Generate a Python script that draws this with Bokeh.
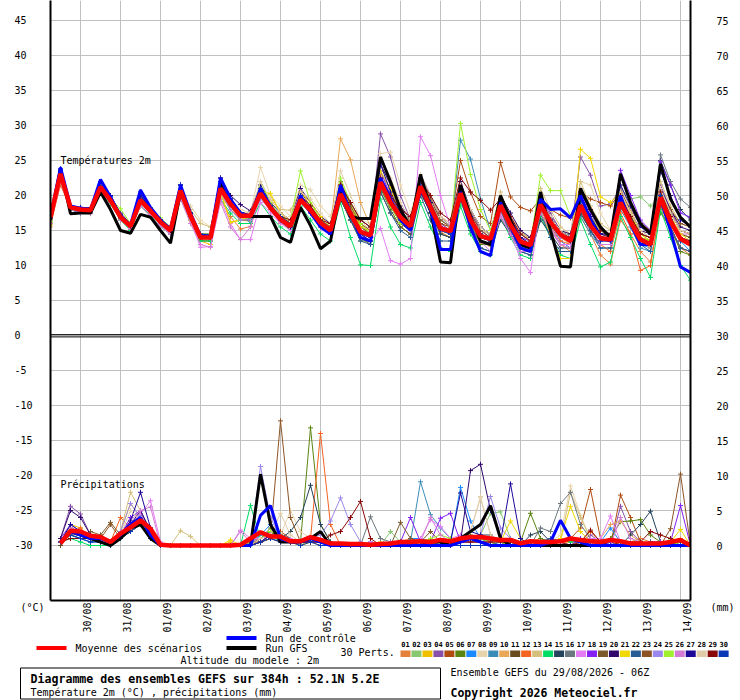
import math
from bokeh.plotting import figure
from bokeh.layouts import column
from bokeh.models import Range1d, LinearAxis, FixedTicker, Span
from bokeh.embed import file_html
from bokeh.resources import INLINE
from bokeh.core.properties import value

# ------------------------------------------------------------------ data
RUN_HOURS = 384
STEP_HOURS = 6
FIRST_MIDNIGHT_HOURS = 18
DATE_LABELS = ["30/08", "31/08", "01/09", "02/09", "03/09", "04/09", "05/09", "06/09",
               "07/09", "08/09", "09/09", "10/09", "11/09", "12/09", "13/09", "14/09"]
LEFT_TICKS = list(range(-30, 50, 5))
RIGHT_TICKS = list(range(0, 80, 5))
PRECIP_ZERO = -30          # where 0 mm sits on the shared vertical scale
PERT_LABELS = ["%02d" % i for i in range(1, 31)]
PERT_COLORS = ["#E4803A", "#88C870", "#F0C000", "#8850A8", "#B04C10", "#5A8410",
               "#1A88FF", "#E8D4AC", "#3C8CB8", "#E8A858", "#6A4C1C", "#F46420",
               "#D4C07C", "#00DC64", "#24445C", "#6C7880", "#E47CF4", "#8420F4",
               "#7C5A2C", "#30086C", "#F0D800", "#285C94", "#8C5424", "#9C88EC",
               "#A0F030", "#D47CD4", "#1C0898", "#E0CCA8", "#880808", "#0838B8"]

# 2 m temperature (deg C), every 6 h from 29/08 06Z
T01 = [16.0,22.0,18.2,17.6, 17.4,20.5,19.0,16.8, 15.4,18.8,17.5,16.0, 14.6,20.0,17.0,13.6, 13.5,19.5,17.0,15.2, 15.6,19.8,18.0,16.2, 15.0,19.0,17.5,15.5, 14.6,21.5,18.0,14.5, 13.5,22.5,19.5,16.0, 15.0,20.5,17.5,14.8, 14.0,19.5,15.5,13.2, 12.8,17.5,15.0,12.5, 12.0,17.5,15.5,13.0, 12.0,17.0,14.5,11.5, 10.2,16.5,14.5,12.0, 10.5,18.0,15.0,12.5, 11.5]
T02 = [16.8,22.5,18.0,17.8, 18.0,20.8,19.2,17.0, 15.8,19.0,17.6,16.0, 15.2,20.2,17.4,14.5, 14.3,20.5,18.5,17.0, 16.8,20.0,18.5,16.8, 15.5,19.5,18.0,16.0, 15.5,20.0,17.0,15.0, 14.5,21.0,18.5,16.5, 15.5,20.0,18.0,15.0, 14.5,19.0,16.0,14.0, 14.0,17.5,16.0,14.5, 14.0,19.0,16.5,14.5, 14.5,18.0,16.0,14.0, 14.5,21.0,19.5,19.8, 18.5,20.0,16.5,14.5, 14.0]
T03 = [15.8,22.3,18.5,18.0, 17.8,21.0,19.5,17.0, 15.5,19.5,18.0,16.3, 15.0,20.5,16.0,13.5, 13.0,20.5,16.2,16.5, 16.3,21.0,20.0,17.5, 16.0,20.0,18.5,16.5, 15.5,21.0,18.5,15.5, 14.8,23.0,21.0,17.5, 16.0,22.0,19.0,16.0, 15.0,21.0,17.5,15.0, 14.5,19.5,16.5,14.0, 13.5,19.0,17.0,15.0, 14.0,19.5,16.5,14.5, 14.0,20.0,17.0,14.5, 13.5,20.5,17.0,14.5, 14.0]
T04 = [16.5,23.0,18.5,18.2, 18.0,21.5,19.5,17.2, 15.8,19.5,18.0,16.5, 15.2,21.0,17.5,14.2, 14.2,21.5,19.0,17.5, 17.3,21.0,18.8,17.0, 16.0,20.0,18.5,16.5, 15.5,22.0,18.5,15.5, 15.0,28.8,25.5,20.0, 16.5,22.5,20.0,16.5, 15.5,21.5,18.0,15.0, 14.5,20.0,17.0,14.5, 13.5,20.0,17.5,15.0, 14.0,25.5,22.9,18.5, 18.8,21.0,17.5,14.5, 14.0,21.5,18.0,15.0, 14.5]
T05 = [16.5,22.8,18.2,18.0, 17.8,21.0,19.0,16.8, 15.5,19.0,17.5,16.0, 14.8,20.5,17.0,14.0, 14.0,21.0,19.0,17.0, 17.0,20.0,18.0,16.5, 15.5,19.5,18.0,16.0, 15.0,20.5,17.5,15.0, 14.5,22.0,19.0,17.0, 16.0,22.0,19.5,17.0, 16.0,25.0,20.5,17.0, 16.0,24.7,19.8,18.3, 17.8,19.5,18.0,17.2, 16.8,20.5,19.5,19.0, 18.5,20.5,18.0,16.0, 15.0,20.5,17.5,15.0, 14.5]
T06 = [16.8,23.5,18.0,17.8, 17.8,21.5,19.5,17.0, 15.5,19.5,17.8,16.0, 15.0,21.0,17.0,13.8, 13.8,21.5,19.0,17.0, 17.0,20.5,18.0,16.5, 15.5,19.0,17.5,15.5, 14.5,19.5,16.5,13.5, 13.5,21.0,18.0,15.5, 14.5,20.5,17.5,14.5, 14.0,21.0,16.0,13.0, 13.0,18.0,15.0,12.5, 12.5,18.0,15.5,14.5, 13.5,18.0,15.0,13.0, 13.0,18.5,16.5,15.5, 15.0,17.5,15.5,12.0, 11.5]
T07 = [16.8,23.8,18.5,18.2, 18.0,21.8,19.8,17.2, 15.8,20.3,18.0,16.3, 14.5,21.5,17.5,14.5, 14.3,22.0,19.5,17.5, 16.0,20.5,18.5,17.0, 16.0,20.0,18.0,16.5, 15.5,20.5,17.5,14.5, 14.0,22.5,19.5,17.5, 16.0,21.5,18.0,15.5, 15.0,20.5,16.5,14.5, 13.5,19.0,16.0,14.0, 13.5,18.5,16.0,13.5, 12.5,17.5,15.0,13.0, 13.0,19.5,16.5,13.0, 12.5,19.5,16.5,13.5, 12.0]
T08 = [16.5,22.5,18.5,18.2, 18.2,21.0,19.5,17.2, 15.8,19.5,18.0,16.5, 15.5,20.5,18.5,16.5, 15.5,20.5,19.0,18.0, 17.5,24.0,20.0,18.5, 17.0,21.5,20.8,18.5, 17.0,22.0,19.0,16.5, 16.0,26.0,26.2,21.5, 17.5,22.5,19.5,17.0, 16.0,21.0,17.5,15.0, 14.5,19.0,16.5,14.0, 13.5,19.5,17.0,15.0, 14.5,22.0,21.5,17.5, 15.0,20.5,17.5,15.0, 14.0,20.5,17.0,14.5, 14.0]
T09 = [16.5,22.5,18.0,17.5, 17.5,21.0,19.5,17.0, 15.5,19.5,17.5,16.0, 15.0,20.5,17.0,14.0, 14.0,21.0,18.5,17.0, 16.5,20.0,18.0,16.5, 15.5,19.5,18.0,16.0, 15.0,20.0,17.0,14.5, 14.0,22.5,19.5,17.0, 15.5,21.0,18.0,15.0, 15.0,27.9,25.2,19.5, 15.0,20.0,16.0,13.0, 12.5,18.0,15.5,13.0, 13.0,17.0,14.5,12.5, 12.5,18.0,15.5,12.5, 12.0,18.5,15.5,12.5, 12.0]
T10 = [15.5,22.0,18.5,17.8, 17.8,20.5,19.0,17.0, 15.5,19.0,17.5,16.0, 14.8,20.0,17.0,14.0, 14.0,20.0,18.0,16.8, 16.5,20.0,18.0,16.5, 15.5,19.5,18.0,16.0, 15.5,28.1,25.1,19.0, 15.5,22.5,19.5,17.5, 16.0,21.5,18.5,16.0, 15.5,20.5,17.0,15.0, 14.0,19.5,17.0,15.0, 13.5,19.5,16.5,14.0, 13.0,18.5,16.0,14.0, 13.5,19.5,16.5,13.5, 12.5,19.5,16.5,13.5, 13.0]
T11 = [16.8,22.8,18.0,17.6, 17.5,20.8,19.0,16.5, 15.2,19.0,17.5,15.8, 14.5,20.0,16.5,13.5, 13.5,20.5,18.0,16.5, 16.5,20.0,18.0,16.5, 15.0,19.0,17.5,15.5, 14.5,19.5,16.5,14.0, 13.0,20.5,17.5,15.5, 14.5,20.5,18.0,15.0, 14.5,19.5,16.5,14.5, 13.5,19.0,16.5,14.5, 13.5,19.5,17.0,15.0, 14.0,19.5,16.5,14.5, 14.5,19.5,17.0,15.5, 15.0,18.5,16.5,14.5, 14.0]
T12 = [16.0,21.5,18.2,17.8, 17.6,20.5,19.0,16.8, 15.4,19.0,17.6,16.0, 15.0,20.2,17.0,14.0, 14.0,20.5,18.5,17.0, 17.0,20.5,18.5,17.0, 16.0,19.5,18.0,16.0, 15.0,20.5,17.0,14.5, 14.5,21.5,19.0,17.0, 16.0,21.0,18.0,15.5, 15.0,20.0,16.5,14.5, 14.0,18.0,15.0,13.0, 12.5,18.0,15.5,13.5, 13.0,17.5,15.0,13.0, 12.0,17.5,14.5,9.3, 10.0,18.5,15.5,12.5, 12.0]
T13 = [16.5,22.5,18.5,18.0, 18.0,21.0,19.5,17.2, 15.8,19.5,18.0,16.3, 15.5,20.5,18.0,16.0, 15.5,20.0,18.5,17.5, 17.5,21.0,19.3,18.0, 17.9,20.5,19.0,17.0, 15.5,21.5,18.5,16.0, 15.0,24.5,21.5,18.5, 16.5,22.5,19.0,16.5, 15.5,22.0,17.5,15.0, 14.5,20.5,17.0,14.5, 14.0,21.0,18.0,15.5, 14.5,22.0,18.5,16.0, 15.0,21.5,18.0,15.0, 14.5,22.0,18.5,16.0, 15.5]
T14 = [16.2,22.0,18.0,17.5, 17.5,20.5,18.8,16.5, 15.0,18.5,17.2,15.5, 14.5,19.5,16.5,13.5, 13.5,19.5,17.5,16.0, 16.0,19.0,17.0,15.5, 14.5,18.5,16.5,14.5, 13.5,19.0,14.0,10.1, 10.0,19.5,15.5,13.0, 12.5,19.0,15.5,12.5, 12.0,18.5,14.5,12.0, 11.5,17.0,14.0,11.5, 11.0,17.0,14.0,11.5, 11.0,16.5,13.0,9.8, 10.5,17.0,14.0,11.0, 8.3,18.0,14.0,10.0, 7.9]
T15 = [16.5,22.5,18.0,17.5, 17.5,20.5,19.0,16.8, 15.5,19.0,17.5,16.0, 14.8,20.5,17.0,14.0, 14.0,21.0,18.5,17.0, 16.8,20.0,18.0,16.5, 15.5,19.5,17.5,15.5, 14.5,20.0,17.0,14.0, 13.5,21.5,18.5,16.0, 15.0,20.5,17.5,14.5, 14.0,19.5,15.5,12.5, 12.0,16.5,14.5,12.0, 11.5,16.5,14.5,12.5, 12.5,17.5,15.0,13.0, 13.0,19.0,16.5,14.0, 13.5,25.0,21.5,18.0, 16.5]
T16 = [16.8,23.0,18.5,18.0, 18.0,21.5,19.5,17.0, 15.8,19.5,18.0,16.5, 15.2,21.0,17.5,14.5, 14.5,21.5,19.0,17.5, 17.0,20.5,18.5,17.0, 16.0,20.0,18.0,16.0, 15.0,20.5,18.0,15.5, 14.5,22.5,19.5,17.5, 16.0,21.0,18.5,15.5, 15.0,20.0,16.5,14.5, 14.0,17.0,14.5,12.5, 12.5,17.5,15.0,13.0, 13.0,18.5,16.0,14.5, 14.5,19.5,17.0,14.5, 14.0,25.8,22.0,19.5, 18.3]
T17 = [16.0,22.0,18.2,17.8, 17.5,20.5,19.0,16.8, 15.3,18.8,17.3,15.8, 14.5,19.5,16.5,12.6, 12.7,19.5,16.0,13.7, 13.7,19.0,17.5,16.0, 15.0,19.0,17.5,15.5, 14.5,20.0,17.0,14.5, 13.5,15.3,10.7,10.2, 11.0,28.4,25.7,20.0, 15.5,21.0,16.5,14.0, 13.5,17.5,14.5,11.0, 9.0,18.5,15.5,13.0, 13.0,19.0,16.0,13.5, 13.5,19.5,16.5,13.5, 13.0,20.0,17.0,14.5, 14.5]
T18 = [16.8,23.5,18.5,18.2, 18.0,21.5,19.5,17.0, 15.5,19.5,18.0,16.3, 15.0,21.0,17.0,14.0, 14.0,21.5,19.0,17.5, 17.0,20.5,18.5,16.5, 15.5,19.5,18.0,16.0, 15.0,21.0,17.5,15.0, 14.5,23.5,20.0,17.5, 16.0,22.0,19.0,16.0, 15.0,21.5,17.5,15.0, 14.0,20.0,17.0,14.0, 13.5,20.0,17.0,15.0, 14.0,20.5,17.5,15.0, 14.5,23.6,20.0,16.5, 15.0,24.8,21.5,17.5, 16.9]
T19 = [16.5,22.5,18.3,17.8, 17.8,21.0,19.2,16.8, 15.5,19.2,17.5,16.0, 15.0,20.5,17.0,14.0, 14.0,21.0,18.5,17.0, 17.0,20.0,18.0,16.5, 15.5,19.5,18.0,16.0, 15.5,22.0,18.5,15.5, 14.5,21.5,18.5,16.0, 15.0,22.5,19.5,16.5, 15.5,21.0,18.0,15.5, 14.5,18.5,16.0,13.5, 13.0,18.0,16.0,14.0, 13.5,18.5,16.0,14.0, 14.0,19.0,16.5,14.0, 13.5,20.0,17.5,15.0, 14.5]
T20 = [17.0,23.5,18.5,18.3, 18.2,22.0,20.0,17.5, 16.0,20.0,18.2,16.5, 15.5,21.5,17.5,14.5, 14.5,22.5,20.0,18.7, 17.8,21.5,19.0,17.5, 16.5,21.0,19.0,17.0, 16.0,21.5,19.0,16.5, 15.5,24.5,21.5,18.5, 16.5,23.0,20.0,17.0, 15.5,22.0,18.0,15.5, 14.5,20.0,17.5,15.0, 14.0,19.5,17.0,15.0, 14.5,20.0,17.0,14.5, 14.0,20.5,17.5,15.0, 14.5,21.0,18.0,15.5, 15.0]
T21 = [16.2,22.0,18.5,18.0, 17.8,21.0,19.0,17.0, 15.5,19.0,17.5,16.0, 15.0,20.0,16.5,14.0, 14.0,20.5,16.1,16.5, 17.0,20.5,20.3,17.5, 16.5,20.5,19.0,17.0, 15.5,21.5,18.5,15.5, 15.0,23.5,21.0,18.0, 16.0,21.5,18.5,15.5, 14.5,20.0,16.0,14.0, 13.5,18.0,15.5,13.0, 12.5,17.5,14.5,11.0, 11.0,26.6,25.3,19.8, 19.0,20.5,17.5,14.5, 13.5,20.0,17.0,14.5, 13.5]
T22 = [16.8,23.2,18.3,18.0, 17.8,21.5,19.5,17.0, 15.6,19.8,18.0,16.3, 15.2,21.0,17.2,14.3, 14.2,21.5,19.0,17.2, 17.0,20.0,18.0,16.5, 15.5,19.0,17.5,15.5, 14.5,19.5,16.5,13.5, 13.0,20.5,17.5,15.0, 14.0,20.0,16.5,13.5, 13.5,19.5,15.0,12.5, 12.0,18.0,14.5,12.0, 11.5,17.5,14.0,12.0, 12.0,18.0,15.0,12.5, 12.5,19.0,16.0,13.0, 12.0,19.5,15.5,12.5, 12.0]
T23 = [16.5,22.8,18.2,18.0, 17.8,21.0,19.2,16.8, 15.5,19.2,17.8,16.2, 15.0,20.5,17.0,14.0, 14.0,20.5,18.5,17.0, 17.0,20.0,18.0,16.8, 16.0,20.5,18.5,16.5, 15.5,21.0,18.5,16.0, 15.0,22.5,20.0,17.5, 16.5,22.0,19.0,16.0, 15.5,21.0,17.5,15.0, 14.0,19.5,16.5,14.0, 13.0,19.0,17.0,15.0, 14.0,19.5,17.0,15.0, 14.0,19.5,17.0,14.5, 14.0,20.0,18.0,16.0, 15.5]
T24 = [16.5,22.5,18.2,17.8, 17.6,21.0,19.0,16.8, 15.5,19.0,17.5,16.0, 14.8,20.0,17.0,14.0, 14.0,20.5,18.0,16.5, 16.5,19.5,18.0,16.5, 15.5,19.0,17.5,15.5, 15.0,20.0,17.0,14.5, 14.0,22.0,19.0,16.5, 15.0,21.0,18.0,15.0, 14.5,20.0,16.5,14.0, 13.5,18.5,16.0,13.5, 13.0,18.5,16.0,14.0, 13.5,18.5,15.5,13.5, 13.5,18.5,16.0,13.5, 13.0,19.5,16.5,14.0, 13.5]
T25 = [16.5,22.5,18.5,18.0, 18.0,21.0,19.5,18.1, 16.0,20.5,18.3,16.8, 15.5,21.0,17.5,14.5, 14.5,22.0,19.5,17.5, 17.0,22.0,19.0,17.0, 16.5,23.5,19.0,16.5, 15.0,22.5,19.0,16.0, 14.5,21.5,18.5,16.0, 15.5,21.0,18.0,15.0, 15.0,30.3,23.0,18.0, 15.0,20.0,16.0,13.5, 13.0,22.9,20.7,20.7, 17.0,19.5,17.0,15.0, 14.5,19.5,16.5,14.0, 13.5,19.0,16.0,13.5, 13.0]
T26 = [16.0,22.0,18.0,17.5, 17.5,20.5,19.0,16.5, 15.2,18.5,17.0,15.5, 14.5,19.5,16.0,13.0, 12.6,19.0,15.5,13.7, 15.5,20.0,18.0,16.0, 15.5,19.5,17.5,15.5, 14.5,20.0,17.5,15.0, 14.0,22.5,19.5,17.0, 15.5,21.5,18.5,15.5, 14.5,20.5,16.5,13.5, 12.0,17.0,14.5,12.0, 12.0,17.5,15.0,13.0, 12.5,18.0,15.5,13.0, 13.0,18.5,16.0,13.5, 13.0,19.0,16.0,13.5, 13.5]
T27 = [17.0,23.8,18.5,18.2, 18.2,22.0,20.0,17.3, 15.8,20.0,18.0,16.5, 15.0,21.5,17.5,14.0, 14.0,22.5,19.5,17.5, 17.3,21.0,18.5,16.5, 15.5,20.0,18.0,16.0, 14.5,21.0,17.5,14.5, 13.5,24.5,20.5,17.5, 15.5,22.5,19.0,15.5, 14.5,21.0,17.0,14.5, 13.5,20.0,17.0,14.0, 13.0,19.5,17.0,15.0, 14.0,20.0,17.0,14.5, 14.5,21.5,18.5,15.5, 14.5,23.5,20.0,16.5, 15.5]
T28 = [16.5,22.5,18.3,18.0, 18.0,21.2,19.3,17.0, 15.6,19.3,17.8,16.2, 15.0,20.5,17.2,14.2, 14.3,21.0,19.0,17.5, 17.5,22.0,19.5,17.5, 16.5,20.5,19.5,17.5, 16.0,23.5,20.0,16.5, 15.0,25.5,22.5,19.0, 16.5,23.0,20.0,17.0, 15.5,21.5,18.0,15.5, 14.5,20.0,17.0,14.5, 13.5,19.5,17.0,15.0, 14.0,21.0,18.0,15.5, 14.5,20.5,17.5,15.0, 14.0,21.0,17.5,15.0, 14.5]
T29 = [16.8,23.0,18.3,18.0, 17.9,21.2,19.3,16.9, 15.6,19.3,17.8,16.2, 15.0,20.7,17.1,14.0, 14.0,21.0,18.8,17.1, 17.1,20.5,18.5,17.0, 16.5,20.0,18.5,16.5, 16.0,21.5,19.0,16.5, 15.5,22.5,20.0,18.0, 17.0,22.0,20.0,17.5, 16.5,22.5,20.5,19.3, 17.9,19.5,17.0,14.5, 13.5,19.0,16.5,14.5, 14.0,20.5,18.0,15.0, 14.5,20.0,17.0,14.5, 14.0,20.5,17.0,14.0, 13.5]
T30 = [17.0,23.5,18.5,18.2, 18.0,22.0,19.8,17.2, 15.8,20.5,18.2,16.5, 15.3,21.5,17.5,14.5, 14.3,22.0,19.5,17.5, 17.2,21.0,18.5,17.0, 16.0,20.0,18.0,16.0, 15.0,20.5,17.0,14.5, 14.0,22.0,19.0,16.5, 15.5,21.5,18.0,15.0, 14.5,20.5,16.5,14.0, 13.5,19.0,16.0,13.5, 13.0,19.0,16.5,14.5, 13.5,19.0,16.0,13.5, 13.5,19.5,16.5,13.5, 13.0,20.0,16.5,13.5, 13.0]
T_CTRL = [17.0,24.0,18.5,18.2, 18.0,22.3,19.8,17.0, 15.8,20.8,18.3,16.5, 15.2,21.5,17.5,14.2, 14.2,22.5,19.5,17.5, 17.0,21.0,18.5,16.5, 15.5,20.0,17.5,15.5, 14.5,21.5,17.5,14.0, 13.5,22.5,19.5,16.5, 15.0,21.0,18.0,12.3, 12.3,20.5,15.5,12.0, 11.4,19.0,15.5,12.5, 12.0,19.5,18.0,18.1, 16.8,20.0,16.5,14.0, 13.5,20.0,16.0,13.0, 13.0,19.5,15.0,9.8, 9.0]
T_GFS = [16.5,23.8,17.4,17.5, 17.5,20.5,18.0,15.0, 14.6,17.3,16.9,15.0, 13.2,20.5,17.0,14.0, 14.0,22.0,19.0,17.5, 17.0,17.0,17.0,14.0, 13.3,18.3,15.7,12.4, 13.5,20.5,17.0,16.7, 16.7,25.5,22.0,18.0, 15.5,23.0,18.0,10.5, 10.4,21.5,17.0,13.5, 13.0,20.0,16.5,13.0, 12.5,20.5,15.0,9.9, 9.8,21.0,18.0,15.5, 14.0,23.1,19.0,16.0, 14.5,24.5,19.5,16.9, 15.5]
T_MEAN = [16.9,23.1,18.3,18.0, 17.9,21.2,19.3,16.9, 15.6,19.3,17.8,16.2, 15.0,20.7,17.1,14.0, 14.0,21.0,18.8,17.1, 17.1,20.3,18.2,16.6, 15.6,19.4,17.9,16.1, 15.0,20.2,17.4,14.8, 14.3,21.9,19.0,16.9, 15.6,21.3,18.3,15.3, 14.9,20.3,16.5,14.2, 13.8,18.6,15.8,13.4, 12.9,18.7,16.2,14.4, 13.5,18.6,15.7,13.9, 13.7,19.0,16.2,13.7, 13.0,19.7,16.3,13.8, 13.0]

# 6-hourly precipitation (mm), first value ends 29/08 12Z
R01 = [0.5,2.5,2,1, 1.5,0.5,2,3, 4,2,0,0, 0,0,0,0, 0,0,0,0.5, 1,2,1,0.5, 0.5,1,0.5,0, 0,0,0,0.5, 0,0,0.5,1, 0.5,0.5,1,0, 0.5,1,0.5,1, 0.5,0,0,0.5, 1,0.5,0,0, 0.5,1,0.5,0, 0,0.5,1,0.5, 0,0.5,1,0]
R02 = [0,1.5,1,0.5, 1,0,1,2, 3,1.5,0,0, 0,0,0,0, 0,0,0,0, 0.5,1,1.5,0.5, 0,1,0.5,0, 0,0,0,0, 0,2,0.5,0.5, 0,1,0.5,0.5, 1,0.5,1.5,4.6, 4.8,1,0.5,0, 0.5,1,0.5,1, 0,0.5,0,0.5, 0,0.5,0,0, 0,1,0.5,0]
R03 = [0.5,3,2.5,1, 0.5,0,2,6, 4,2,0,0, 0,0,0,0, 0,0.5,0,0, 0.5,1.5,1,0.5, 0,0.5,0,0, 0,0,0,0, 0.5,0,0,1, 0,0.5,0,0.5, 0.5,0.5,1,0.5, 0,0.5,0,0, 0.5,0,0.5,0.5, 1,0,0.5,0, 0.5,0,0,0, 0,0.5,0.5,0]
R04 = [1,5.6,4.5,1.5, 1,0.5,1.5,3, 4.5,2.5,0,0, 0,0,0,0, 0,0,0,0, 1,1.5,1,0.5, 0.5,1,1,0, 0,0,0,0, 0,0,0,0.5, 0,0,0.5,0.5, 1,0.5,0.5,0, 0,0,0.5,0, 0.5,0.5,1,0.5, 0.5,1.5,0.5,0, 5.6,2,0.5,0, 0,0,0.5,0]
R05 = [0,2,1.5,1, 1,0.5,1.5,2.5, 3.5,2,0,0, 0,0,0,0, 0,0,0,0, 0.5,1.5,2,1, 0.5,1,0.5,0, 0,0,0,0, 0,0,0,0.5, 0.5,1,0.5,0.5, 1,0.5,0.5,0.5, 0,0,0.5,0, 0,0.5,0.5,1, 2.5,8,1,0, 7.2,4,0.5,0, 0,0.5,0.5,0]
R06 = [0.5,2,2,1, 0.5,0,1,2.5, 3,1.5,0,0, 0,0,0,0, 0,0,0,0.5, 1,2.5,1,1, 0.5,16.8,3,0.5, 0,0,0,0, 0,0,0.5,0.5, 1,0.5,0.5,0.5, 1,1.5,1,0.5, 0,1,0.5,4.6, 1,0.5,0,0, 0,0.5,0.5,1, 3.4,3.5,3.7,1.5, 0.5,0.5,0,0]
R07 = [0.5,1.5,1,0.5, 0.5,0,1,3, 3,1,0,0, 0,0,0,0, 0,0,0,0, 1.5,3,1.5,1, 0.5,1,0.5,0, 0,0,0,0.5, 0,0.5,0,1, 1,0.5,0.5,0.5, 8.3,3.5,1,0.5, 0.5,0.5,0,0, 0.5,1,0.5,0, 0,0.5,0.5,2.5, 0.5,0.5,0,0, 0,0.5,0,0]
R08 = [0.5,2,1.5,1, 1,0.5,1,4, 5,1.5,0,0, 0,0,0,0, 0,0,0,0, 1,2,1.5,5, 2,1,0.5,0, 0,0,0,0, 0,0,0.5,0.5, 0.5,0.5,0.5,1, 1,2,6.8,1.5, 0.5,0.5,0,0, 0.5,0.5,1.5,8.5, 4.3,1,0,0, 0.5,0,0.5,0, 0,0.5,0.5,0]
R09 = [0.5,2.5,2,1, 1,0.5,1.5,3, 3.5,2,0,0, 0,0,0,0, 0,0,0,0.5, 1.5,2,1.5,1, 0.5,1,0.5,0, 0,0,0,0, 0,0,0.5,0.5, 9.1,4.4,2.5,1, 1,0.5,0.5,0, 0.5,0,0,0.5, 0.5,1,0.5,0, 0,0.5,0,0.5, 0,0.5,0,0, 0,0,0.5,0]
R10 = [0.5,1.5,1.5,1, 1,0.5,2,3, 4,1.5,0,0, 0,0,0,0, 0,0,0,0.5, 0.5,1.5,1,0.5, 0.5,1,0.5,0, 0,0,0,0, 0,0,0,0.5, 0.5,0.5,1,0.5, 0.5,1,1,0.5, 0.5,0.5,0,0, 0,0.5,0.5,0.5, 0.5,0.5,1,3, 3.5,1.5,0.5,0, 0,0.5,1,0]
R11 = [0,2,1.5,1.5, 1,0.5,1,2, 3,1.5,0,0, 0,0,0,0, 0,0,0,0, 1,1.5,1,0.5, 0.5,1,0.5,0, 0,0,0,0, 0,0,0,0, 0.5,0.5,0.5,0, 1,0.5,0.5,0.5, 0.5,0.5,0,0, 0,0.5,0.5,0, 1,0.5,0,0, 0.5,0,0,0.5, 0.5,0,0.5,0]
R12 = [0.5,2,2.5,1, 1,0.5,4,2.5, 3,2,0,0, 0,0,0,0, 0,0,0,0, 0.5,1.5,1,0.5, 0.5,1,16,3, 0,0,0,0, 0,0,0.5,0.5, 0.5,1,0.5,0.5, 0.5,0.5,1,0.5, 0.5,0,0,0, 0.5,0.5,0.5,0, 0.5,2,0.5,0, 0,0.5,0,0, 0,0.5,0.5,0]
R13 = [0.5,2.5,2,1, 1,0,2,7.6, 5,2,0,0, 2.1,1.3,0,0, 0,0,0,0, 0.5,1.5,1,0.5, 0.5,1,0.5,0, 0,0,0,0, 0,0,0.5,0.5, 0.5,0.5,0.5,1, 0.5,1,1.5,1, 0.5,0.5,0,0, 0.5,0.5,0.5,7.6, 4,1,0,0, 0,0.5,0.5,0, 0,0.5,0.5,0]
R14 = [0.5,1,0.5,0, 0,0,1,2, 3,1,0,0, 0,0,0,0, 0,0,0,5.7, 1,1.5,0.5,0.5, 0.5,1,0.5,0, 0,0,0,0, 0,0.5,0,0, 0,0.5,0.5,0, 0.5,0.5,0.5,1, 0.5,0,0,0, 0,0.5,1,0.5, 0.5,0.5,0,0, 0.5,0,0,0, 0,0.5,0.5,0]
R15 = [0.5,2,1.5,1, 1,0.5,1.5,2.5, 4,2,0,0, 0,0,0,0, 0,0,0,0.5, 1,2,1,2, 4,8.6,3,0.5, 0,0,0,0, 0,0,0.5,0.5, 0.5,0.5,0.5,0, 0.5,1,1.5,1.5, 0.5,0.5,0,1.5, 2,0.5,0,0, 0.5,1,0.5,0, 0,1.5,3,4.9, 0.5,0.5,0,0]
R16 = [0.5,2,2,1, 1,0.5,1.5,3, 4,1.5,0,0, 0,0,0,0, 0,0,0,0, 0.5,1.5,1,0.5, 0.5,0.5,0.5,0, 0,0,0,4.1, 1,0.5,0.5,0.5, 0.5,0.5,0.5,0, 0.5,0.5,0.5,0.5, 0.5,0.5,0.5,0, 2.5,2,6,7.6, 3,1,0,0, 0.5,0,0.5,0, 0,0.5,0.5,0]
R17 = [0.5,2,2,1, 1,0.5,2,3, 4.5,6.4,0.5,0, 0,0,0,0, 0,0,2.2,1, 1,1.5,1,1, 0.5,0.5,0.5,0, 0,0,0,0.5, 0,0,0.5,0.5, 1,3.7,2.7,1, 1.5,1,0.5,0.5, 0.5,0.5,0,0, 0.5,0.5,0.5,0, 0.5,1,1,4.2, 0.5,0,0.5,0, 0,0.5,0.5,0]
R18 = [1,3,2,1, 1,0.5,1.5,4, 5,2,0,0, 0,0,0,0, 0,0,0,0, 0.5,1.5,1,0.5, 0.5,1,0.5,0, 0,0,0,0, 0,0,0.5,4, 0.5,0.5,3.9,4.6, 0.5,1,0.5,0.5, 0.5,0.5,0,0, 0,0.5,0.5,0, 1,0.5,0,0.5, 0,0.5,0,0.5, 0.5,0.5,5.7,0]
R19 = [0.5,2,1.5,2, 1.5,3.3,1.5,2.5, 3.5,2,0,0, 0,0,0,0, 0,0,0,0, 1,2,1,0.5, 0.5,1,0.5,0, 0,0,0,0, 0,0,3.3,1, 0.5,2,0.5,0.5, 0.5,0.5,0.5,0.5, 0.5,0,0,0, 0.5,0.5,0.5,0, 0.5,0.5,0,0, 0.5,0.5,0.5,0, 0,0.5,0.5,0]
R20 = [1,5,4,1.5, 1,0.5,1.5,3, 5,2,0,0, 0,0,0,0, 0,0,0,0, 0.5,1,1,0.5, 0.5,0.5,0.5,0, 0,0,0,0, 0,0,0,0.5, 0.5,0.5,0.5,0.5, 0.5,10.7,11.6,5, 1,0.5,0,0, 0.5,0.5,0.5,0, 0.5,0.5,0,0, 0.5,0,0,0, 0,0.5,0.5,0]
R21 = [0.5,2,1.5,1, 0.5,0,1.5,3, 3.5,1.5,0,0, 0,0,0,0, 0,0.8,0,0, 0.5,1,1,0.5, 0,0.5,0.5,0, 0,0,0,0, 0,0,0.5,0.5, 0.5,1,0.5,0.5, 0.5,1,1,0.5, 0.5,3.5,1,0, 0.5,0.5,1,5.6, 2,0.5,0,0, 0.5,0,0.5,0, 0,0.5,2.3,0]
R22 = [0.5,1.5,1,1, 0.5,0,1,2.5, 3,1.5,0,0, 0,0,0,0, 0,0,0,0.5, 1,2,1.5,0.5, 0.5,0.5,0.5,0, 0,0,0,0, 0,0.5,0.5,0, 0.5,0.5,1,0.5, 0.5,0.5,1,0.5, 0.5,0,0,0, 0.5,1,0.5,0, 0.5,0.5,0,0, 0.5,0.5,0,0.5, 0,0.5,0.5,0]
R23 = [0.5,2,2,1, 1,3,1,2.5, 4,2,0,0, 0,0,0,0, 0,0,0,0, 1,1.5,17.8,4, 0.5,1,0.5,0, 0,0,0,0, 0,0,0,0.5, 0.5,0.5,0.5,0, 0.5,0.5,0.5,0.5, 0.5,0.5,0,0, 0.5,0.5,0.5,0, 0.5,0,0,0, 0.5,0.5,0.5,0, 0,2.4,10.2,0]
R24 = [0.5,3,2,1, 1,0.5,2,6, 4,2,0,0, 0,0,0,0, 0,0,0,0.5, 11.3,4,1,0.5, 0.5,1,1.5,3.5, 6.8,3,0.5,0, 0,0.5,0,0.5, 0.5,0.5,0.5,0, 0.5,1,1.5,7, 2.5,1,0,0, 0.5,0.5,0.5,0, 0.5,0.5,0,0, 0.5,0,0,0, 0,0.5,0.5,0]
R25 = [0.5,2,1.5,1, 1,0.5,1.5,2.5, 3.5,1.5,0,0, 0,0,0,0, 0,0,0,0.5, 1,2,1.5,0.5, 0.5,0.5,0.5,0, 0,0,0,0, 0,0,0.5,0.5, 0.5,1,1.5,1, 1,1,1,0.5, 0.5,0,0,0, 0,0.5,0.5,0, 0.5,0.5,0,0, 0.5,0,0.5,0, 0,0,0.5,0]
R26 = [0.5,2.5,2,1, 1,0,1.5,3.5, 5,5.5,0,0, 0,0,0,0, 0,0,2,0.5, 1,1.5,1,0.5, 0.5,0.5,0.5,0, 0,0,0,0, 0,0,0.5,0.5, 0.5,4,1.5,0.5, 0.5,0.5,0.5,0.5, 0.5,0.5,0,0, 0.5,0.5,0.5,0, 0.5,0.5,0,0, 4,1,0.5,0, 0,0.5,0.5,0]
R27 = [0.5,3,2,1, 1,0.5,1.5,3.5, 7.6,2.5,0,0, 0,0,0,0, 0,0,0,0, 0.5,1.5,1,0.5, 0.5,0.5,0.5,0, 0,0,0,0, 0,0,0.5,0.5, 0.5,0.5,0.5,0.5, 7.5,2,1.5,1, 0.5,8.8,1,0, 0.5,0.5,0.5,0, 0.5,0.5,0,0, 0.5,0,0,0, 0,0.5,0.5,0]
R28 = [0.5,2,2,1, 1,0.5,1.5,5, 3.5,1.5,0,0, 0,0,0,0, 0,0,0,0, 1,1.5,4.6,1.5, 0.5,1,0.5,0, 0,0,0,0, 0,0,0.5,0.5, 0.5,0.5,1,0.5, 1,2,7,1.5, 0.5,0.5,0,0, 0.5,0.5,0.5,0, 0.5,0.5,0,0, 0.5,0,0,0, 0,0.5,0.5,0]
R29 = [0.5,1,1,1, 0.5,0,1,2, 3,1,0,0, 0,0,0,0, 0,0,0,0, 0.5,1,0.5,0.5, 0.5,0.5,0.5,1.5, 2,4,6.3,1, 0,0,0.5,0.5, 0.5,0.5,0.5,0, 0.5,0.5,0.5,0.5, 0.5,0.5,0,0, 0.5,0.5,0.5,0, 0.5,2.2,0.5,0, 0.5,0,0.5,2, 1.5,1,0.5,0]
R30 = [0.5,1.5,1,0.5, 0.5,0,1,2, 3,1,0,0, 0,0,0,0, 0,0,0,0, 0.5,1,0.5,0.5, 0,0.5,0,0, 0,0,0,0, 0,0,0,0, 0,0,0,0, 0,0,0,0, 0,0,0,0, 0,0,0,0, 0,0,0,0, 0,0,0,0, 0,0,0,0]
R_CTRL = [0.5,2,1.5,1, 1,0.5,1.5,3, 4,1.5,0,0, 0,0,0,0, 0,0,0,0, 4.3,5.7,1,0.5, 0.5,1,0.5,0, 0,0,0,0, 0,0,0,0, 0,0,0,0, 0.5,1,0.5,0, 0,0,0,0, 0,0.5,3.6,1, 0.5,0,0,0, 0,0,0,0, 0,0,0,0]
R_GFS = [0.5,2,1.5,1, 0.5,0,1,2.5, 3,1,0,0, 0,0,0,0, 0,0,0,0, 10.2,3,0.5,0.5, 0.5,1,2,0, 0,0,0,0, 0,0,0,0, 0,0.5,0.5,0, 1,2,3,5.7, 1,0,0,0, 0,0,0,0, 0,0,0,0, 0,0,0,0, 0,0,0,0]
R_MEAN = [0.3,2.1,2.0,1.4, 1.2,0.5,1.7,2.6, 3.6,2.4,0.1,0, 0,0,0,0, 0,0,0.1,1.0, 1.9,1.3,1.3,0.6, 0.6,1.2,0.8,0.3, 0.3,0.2,0.2,0.1, 0.2,0.3,0.5,0.5, 0.6,0.5,0.8,0.6, 1.0,1.2,1.2,1.0, 0.8,0.8,0.3,0.6, 0.5,0.5,0.6,1.0, 0.8,0.6,0.5,0.8, 0.6,0.3,0.3,0.3, 0.3,0.5,0.8,0]

TEMP_PERTS = [T01, T02, T03, T04, T05, T06, T07, T08, T09, T10, T11, T12, T13, T14, T15,
              T16, T17, T18, T19, T20, T21, T22, T23, T24, T25, T26, T27, T28, T29, T30]
RAIN_PERTS = [R01, R02, R03, R04, R05, R06, R07, R08, R09, R10, R11, R12, R13, R14, R15,
              R16, R17, R18, R19, R20, R21, R22, R23, R24, R25, R26, R27, R28, R29, R30]

# ------------------------------------------------------------------ helpers
MONO = "DejaVu Sans Mono"
PAGE_W = 740
FRAME_L, FRAME_R = 50, 690        # plot frame, in page pixels
FRAME_H = 600
PX_PER_UNIT = 7.0
ZERO_PX = 335                     # page row of the 0 line
HOURS_PER_PX = RUN_HOURS / (FRAME_R - FRAME_L)


def temp_x(vals):
    return [STEP_HOURS * i for i in range(len(vals))]


def rain_x(vals):
    return [STEP_HOURS * (i + 1) for i in range(len(vals))]


def rain_y(vals):
    return [PRECIP_ZERO + v for v in vals]


# ------------------------------------------------------------------ main plot
Y_TOP = ZERO_PX / PX_PER_UNIT
Y_BOTTOM = (ZERO_PX - FRAME_H) / PX_PER_UNIT
p = figure(width=PAGE_W, height=FRAME_H + 2, output_backend="svg", toolbar_location=None,
           x_range=Range1d(0, RUN_HOURS), y_range=Range1d(Y_BOTTOM, Y_TOP),
           min_border_left=FRAME_L, min_border_right=PAGE_W - FRAME_R,
           min_border_top=0, min_border_bottom=2)
p.frame_align = False
p.outline_line_color = None
p.background_fill_color = "white"
p.border_fill_color = "white"
p.extra_y_ranges = {"mm": Range1d(Y_BOTTOM - PRECIP_ZERO, Y_TOP - PRECIP_ZERO)}

midnights = [FIRST_MIDNIGHT_HOURS + 24 * k for k in range(len(DATE_LABELS))]

p.xgrid.ticker = FixedTicker(ticks=midnights)
p.ygrid.ticker = FixedTicker(ticks=LEFT_TICKS)
for g in (p.xgrid, p.ygrid):
    g.grid_line_color = "#C0C0C0"
    g.grid_line_width = 1


def style_axis(ax):
    ax.major_tick_line_color = None
    ax.minor_tick_line_color = None
    ax.axis_line_color = "black"
    ax.axis_line_width = 2
    ax.major_label_text_font = MONO
    ax.major_label_text_font_size = "10px"
    ax.major_label_text_color = "black"


xa = p.xaxis[0]
xa.ticker = FixedTicker(ticks=[])
xa.major_label_standoff = 0
style_axis(xa)

ya = p.yaxis[0]
ya.ticker = FixedTicker(ticks=LEFT_TICKS)
ya.major_label_overrides = {t: str(t) + "\u00a0" * (3 - len(str(t))) for t in LEFT_TICKS}
ya.major_label_standoff = 12
style_axis(ya)

yr = LinearAxis(y_range_name="mm", ticker=FixedTicker(ticks=RIGHT_TICKS))
yr.major_label_standoff = 20
style_axis(yr)
p.add_layout(yr, "right")

# separator between the two panels
p.add_layout(Span(location=0.12, dimension="width", line_color="black", line_width=1))
p.add_layout(Span(location=-0.2, dimension="width", line_color="black", line_width=1))

# ensemble members
for vals, col in zip(TEMP_PERTS, PERT_COLORS):
    xs = temp_x(vals)
    p.line(xs, vals, line_color=col, line_width=1)
    p.scatter(xs, vals, marker="cross", size=5, line_color=col, line_width=1)
for vals, col in zip(RAIN_PERTS, PERT_COLORS):
    xs = rain_x(vals)
    ys = rain_y(vals)
    p.line(xs, ys, line_color=col, line_width=1)
    p.scatter(xs, ys, marker="cross", size=5, line_color=col, line_width=1)

# GFS, control, mean
p.line(temp_x(T_GFS), T_GFS, line_color="black", line_width=3)
p.line(rain_x(R_GFS), rain_y(R_GFS), line_color="black", line_width=3)
p.line(temp_x(T_CTRL), T_CTRL, line_color="#0000FF", line_width=3)
p.line(rain_x(R_CTRL), rain_y(R_CTRL), line_color="#0000FF", line_width=3)
p.line(temp_x(T_MEAN), T_MEAN, line_color="#FF0000", line_width=4.5)
p.line(rain_x(R_MEAN), rain_y(R_MEAN), line_color="#FF0000", line_width=4.5)

p.text(x=[6], y=[25], text=["Températures 2m"], text_font=value(MONO),
       text_font_size="10px", text_baseline="middle", text_align="left", text_color="black")
p.text(x=[6], y=[-21.3], text=["Précipitations"], text_font=value(MONO),
       text_font_size="10px", text_baseline="middle", text_align="left", text_color="black")

# ------------------------------------------------------------------ strip below the frame
STRIP_TOP = FRAME_H + 2
q = figure(width=PAGE_W, height=700 - STRIP_TOP, output_backend="svg", toolbar_location=None,
           x_range=Range1d(0, PAGE_W), y_range=Range1d(700, STRIP_TOP),
           min_border=0, min_border_left=0, min_border_right=0,
           min_border_top=0, min_border_bottom=0,
           x_axis_location=None, y_axis_location=None)
q.frame_align = False
q.outline_line_color = None
q.grid.visible = False
q.background_fill_color = "white"
q.border_fill_color = "white"
# same time scale as the main plot, for the date labels
q.extra_x_ranges = {"hours": Range1d(-FRAME_L * HOURS_PER_PX, (PAGE_W - FRAME_L) * HOURS_PER_PX)}

q.text(x=[m + 4.2 for m in midnights], y=[STRIP_TOP] * len(midnights), text=DATE_LABELS,
       x_range_name="hours", angle=math.pi / 2, text_font=value(MONO), text_font_size="10px",
       text_align="right", text_baseline="middle", text_color="black")


def qtext(x, y, s, size="10px", bold=False):
    q.text(x=[x], y=[y], text=[s], text_font=value(MONO), text_font_size=size,
           text_font_style="bold" if bold else "normal",
           text_baseline="middle", text_align="left", text_color="black")


qtext(20, 607, "(°C)")
qtext(710, 607, "(mm)")

q.line([226, 256], [637.5, 637.5], line_color="#0000FF", line_width=4)
q.line([226, 256], [647.5, 647.5], line_color="black", line_width=4)
q.line([36, 66], [647.5, 647.5], line_color="#FF0000", line_width=4)
qtext(265, 637.5, "Run de contrôle")
qtext(265, 647.5, "Run GFS")
qtext(75, 647.5, "Moyenne des scénarios")
qtext(340, 652, "30 Perts.")
qtext(180, 660, "Altitude du modele : 2m")

pitch = 10.97
sw_left = [400 + pitch * i for i in range(len(PERT_LABELS))]
q.quad(left=sw_left, right=[v + 10 for v in sw_left], top=[650] * len(sw_left),
       bottom=[656.5] * len(sw_left), fill_color=PERT_COLORS, line_color=None)
q.text(x=[v + 5 for v in sw_left], y=[643.5] * len(sw_left), text=PERT_LABELS,
       text_font=value(MONO), text_font_size="7px", text_font_style="bold",
       text_align="center", text_baseline="middle", text_color="black")

q.quad(left=[20], right=[440], top=[667.5], bottom=[698.5], fill_color=None,
       line_color="black", line_width=1)
qtext(30, 678, "Diagramme des ensembles GEFS sur 384h : 52.1N 5.2E", size="11.6px", bold=True)
qtext(30, 692, "Température 2m (°C) , précipitations (mm)")
qtext(450, 672, "Ensemble GEFS du 29/08/2026 - 06Z")
qtext(450, 692, "Copyright 2026 Meteociel.fr", size="11.5px", bold=True)

layout = column(p, q, spacing=0)
open("out.html", "w").write(file_html(layout, INLINE))
